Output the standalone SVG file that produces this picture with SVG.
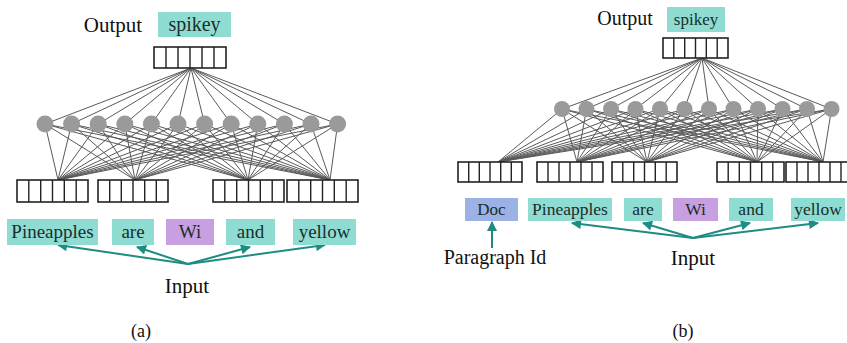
<svg xmlns="http://www.w3.org/2000/svg" width="847" height="343" viewBox="0 0 847 343">
<style>
.t{font-family:"Liberation Serif","DejaVu Serif",serif;fill:#111;text-anchor:middle}
.wt{font-family:"Liberation Serif","DejaVu Serif",serif;fill:#1a2e2c;text-anchor:middle}
.teal{fill:#8fdcd3}
.purp{fill:#c8a0e2}
.blue{fill:#9cb1e6}
.cell{fill:#fff;stroke:#222;stroke-width:1.6}
.cl{fill:none;stroke:#222;stroke-width:1.4}
.ln{stroke:#5a5a5a;stroke-width:1;fill:none}
.nd{fill:#9a9a9a}
.ar{stroke:#1f8c83;stroke-width:2;fill:none;marker-end:url(#ah)}
</style>
<defs>
<marker id="ah" viewBox="0 0 10 10" refX="9" refY="5" markerWidth="6" markerHeight="5" orient="auto" markerUnits="strokeWidth">
<path d="M0,0 L10,5 L0,10 z" fill="#1f8c83"/>
</marker>
</defs>
<rect width="847" height="343" fill="#fff"/>

<!-- connectors -->
<g id="connectors">
<g id="a-out-lines" class="ln">
<path d="M191,68 L45,124 M191,68 L71.6,124 M191,68 L98.2,124 M191,68 L124.8,124 M191,68 L151.4,124 M191,68 L178,124 M191,68 L204.6,124 M191,68 L231.2,124 M191,68 L257.8,124 M191,68 L284.4,124 M191,68 L311,124 M191,68 L337.6,124"/>
</g>
<g id="a-in-lines" class="ln">
<path d="M45,124 L58,180 M71.6,124 L58,180 M98.2,124 L58,180 M124.8,124 L58,180 M151.4,124 L58,180 M178,124 L58,180 M204.6,124 L58,180 M231.2,124 L58,180 M257.8,124 L58,180 M284.4,124 L58,180 M311,124 L58,180 M337.6,124 L58,180"/>
<path d="M45,124 L135,180 M71.6,124 L135,180 M98.2,124 L135,180 M124.8,124 L135,180 M151.4,124 L135,180 M178,124 L135,180 M204.6,124 L135,180 M231.2,124 L135,180 M257.8,124 L135,180 M284.4,124 L135,180 M311,124 L135,180 M337.6,124 L135,180"/>
<path d="M45,124 L248,180 M71.6,124 L248,180 M98.2,124 L248,180 M124.8,124 L248,180 M151.4,124 L248,180 M178,124 L248,180 M204.6,124 L248,180 M231.2,124 L248,180 M257.8,124 L248,180 M284.4,124 L248,180 M311,124 L248,180 M337.6,124 L248,180"/>
<path d="M45,124 L330,180 M71.6,124 L330,180 M98.2,124 L330,180 M124.8,124 L330,180 M151.4,124 L330,180 M178,124 L330,180 M204.6,124 L330,180 M231.2,124 L330,180 M257.8,124 L330,180 M284.4,124 L330,180 M311,124 L330,180 M337.6,124 L330,180"/>
</g>
<g id="b-out-lines" class="ln">
<path d="M702,58 L562,109 M702,58 L586.5,109 M702,58 L611,109 M702,58 L635.5,109 M702,58 L660,109 M702,58 L684.5,109 M702,58 L709,109 M702,58 L733.5,109 M702,58 L758,109 M702,58 L782.5,109 M702,58 L807,109 M702,58 L831.5,109"/>
</g>
<g id="b-in-lines" class="ln">
<path d="M562,109 L498,162 M586.5,109 L498,162 M611,109 L498,162 M635.5,109 L498,162 M660,109 L498,162 M684.5,109 L498,162 M709,109 L498,162 M733.5,109 L498,162 M758,109 L498,162 M782.5,109 L498,162 M807,109 L498,162 M831.5,109 L498,162"/>
<path d="M562,109 L577,162 M586.5,109 L577,162 M611,109 L577,162 M635.5,109 L577,162 M660,109 L577,162 M684.5,109 L577,162 M709,109 L577,162 M733.5,109 L577,162 M758,109 L577,162 M782.5,109 L577,162 M807,109 L577,162 M831.5,109 L577,162"/>
<path d="M562,109 L647,162 M586.5,109 L647,162 M611,109 L647,162 M635.5,109 L647,162 M660,109 L647,162 M684.5,109 L647,162 M709,109 L647,162 M733.5,109 L647,162 M758,109 L647,162 M782.5,109 L647,162 M807,109 L647,162 M831.5,109 L647,162"/>
<path d="M562,109 L757,162 M586.5,109 L757,162 M611,109 L757,162 M635.5,109 L757,162 M660,109 L757,162 M684.5,109 L757,162 M709,109 L757,162 M733.5,109 L757,162 M758,109 L757,162 M782.5,109 L757,162 M807,109 L757,162 M831.5,109 L757,162"/>
<path d="M562,109 L823,162 M586.5,109 L823,162 M611,109 L823,162 M635.5,109 L823,162 M660,109 L823,162 M684.5,109 L823,162 M709,109 L823,162 M733.5,109 L823,162 M758,109 L823,162 M782.5,109 L823,162 M807,109 L823,162 M831.5,109 L823,162"/>
</g>
<g id="arrows">
<path class="ar" d="M188,264 L58,245"/>
<path class="ar" d="M188,264 L137,247"/>
<path class="ar" d="M188,264 L250,247"/>
<path class="ar" d="M188,264 L325,245"/>
<path class="ar" d="M693,238 L572,223"/>
<path class="ar" d="M693,238 L643,223"/>
<path class="ar" d="M693,238 L750,223"/>
<path class="ar" d="M693,238 L818,223"/>
<path class="ar" d="M492,248 L492,222"/>
</g>
</g>

<!-- (a) -->
<g id="a-output-label"><text class="t" x="113" y="32" font-size="21">Output</text></g>
<g id="a-output-word"><rect class="teal" x="158" y="12" width="73" height="25"/><text class="wt" x="194.5" y="31" font-size="20">spikey</text></g>
<g id="a-output-vec">
<rect class="cell" x="154" y="47" width="72" height="21"/>
<path class="cl" d="M166,47V68M178,47V68M190,47V68M202,47V68M214,47V68"/>
</g>
<g id="a-hidden" class="nd">
<circle cx="45" cy="124" r="8.5"/><circle cx="71.6" cy="124" r="8.5"/><circle cx="98.2" cy="124" r="8.5"/><circle cx="124.8" cy="124" r="8.5"/><circle cx="151.4" cy="124" r="8.5"/><circle cx="178" cy="124" r="8.5"/><circle cx="204.6" cy="124" r="8.5"/><circle cx="231.2" cy="124" r="8.5"/><circle cx="257.8" cy="124" r="8.5"/><circle cx="284.4" cy="124" r="8.5"/><circle cx="311" cy="124" r="8.5"/><circle cx="337.6" cy="124" r="8.5"/>
</g>
<g id="a-vec1"><rect class="cell" x="17" y="180" width="71" height="22"/><path class="cl" d="M28.8,180V202M40.7,180V202M52.5,180V202M64.3,180V202M76.2,180V202"/></g>
<g id="a-vec2"><rect class="cell" x="98" y="180" width="70" height="22"/><path class="cl" d="M109.7,180V202M121.3,180V202M133,180V202M144.7,180V202M156.3,180V202"/></g>
<g id="a-vec3"><rect class="cell" x="213" y="180" width="71" height="22"/><path class="cl" d="M224.8,180V202M236.7,180V202M248.5,180V202M260.3,180V202M272.2,180V202"/></g>
<g id="a-vec4"><rect class="cell" x="287" y="180" width="71" height="22"/><path class="cl" d="M298.8,180V202M310.7,180V202M322.5,180V202M334.3,180V202M346.2,180V202"/></g>
<g id="a-w1"><rect class="teal" x="7" y="219" width="91" height="26"/><text class="wt" x="52.5" y="238" font-size="19">Pineapples</text></g>
<g id="a-w2"><rect class="teal" x="112" y="219" width="42" height="26"/><text class="wt" x="133" y="238" font-size="19">are</text></g>
<g id="a-w3"><rect class="purp" x="166" y="219" width="48" height="26"/><text class="wt" x="190" y="238" font-size="19">Wi</text></g>
<g id="a-w4"><rect class="teal" x="226" y="219" width="49" height="26"/><text class="wt" x="250.5" y="238" font-size="19">and</text></g>
<g id="a-w5"><rect class="teal" x="293" y="219" width="63" height="26"/><text class="wt" x="324.5" y="238" font-size="19">yellow</text></g>
<g id="a-input-label"><text class="t" x="187" y="293" font-size="21">Input</text></g>
<g id="a-caption"><text class="t" x="141" y="337" font-size="18">(a)</text></g>

<!-- (b) -->
<g id="b-output-label"><text class="t" x="625" y="25" font-size="20">Output</text></g>
<g id="b-output-word"><rect class="teal" x="667" y="7" width="58" height="25"/><text class="wt" x="696" y="25" font-size="17">spikey</text></g>
<g id="b-output-vec">
<rect class="cell" x="663" y="38" width="65" height="20"/>
<path class="cl" d="M673.8,38V58M684.7,38V58M695.5,38V58M706.3,38V58M717.2,38V58"/>
</g>
<g id="b-hidden" class="nd">
<circle cx="562" cy="109" r="8"/><circle cx="586.5" cy="109" r="8"/><circle cx="611" cy="109" r="8"/><circle cx="635.5" cy="109" r="8"/><circle cx="660" cy="109" r="8"/><circle cx="684.5" cy="109" r="8"/><circle cx="709" cy="109" r="8"/><circle cx="733.5" cy="109" r="8"/><circle cx="758" cy="109" r="8"/><circle cx="782.5" cy="109" r="8"/><circle cx="807" cy="109" r="8"/><circle cx="831.5" cy="109" r="8"/>
</g>
<g id="b-vec1"><rect class="cell" x="458" y="162" width="64" height="20"/><path class="cl" d="M468.7,162V182M479.3,162V182M490,162V182M500.7,162V182M511.3,162V182"/></g>
<g id="b-vec2"><rect class="cell" x="537" y="162" width="66" height="20"/><path class="cl" d="M548,162V182M559,162V182M570,162V182M581,162V182M592,162V182"/></g>
<g id="b-vec3"><rect class="cell" x="612" y="162" width="65" height="20"/><path class="cl" d="M622.8,162V182M633.7,162V182M644.5,162V182M655.3,162V182M666.2,162V182"/></g>
<g id="b-vec4"><rect class="cell" x="717" y="162" width="67" height="20"/><path class="cl" d="M728.2,162V182M739.3,162V182M750.5,162V182M761.7,162V182M772.8,162V182"/></g>
<g id="b-vec5"><rect class="cell" x="786" y="162" width="66" height="20"/><path class="cl" d="M797,162V182M808,162V182M819,162V182M830,162V182M841,162V182"/></g>
<g id="b-doc"><rect class="blue" x="465" y="198" width="53" height="23"/><text class="wt" x="491.5" y="215" font-size="17">Doc</text></g>
<g id="b-w1"><rect class="teal" x="528" y="198" width="84" height="23"/><text class="wt" x="570" y="215" font-size="17.5">Pineapples</text></g>
<g id="b-w2"><rect class="teal" x="624" y="198" width="38" height="23"/><text class="wt" x="643" y="215" font-size="17.5">are</text></g>
<g id="b-w3"><rect class="purp" x="673" y="198" width="45" height="23"/><text class="wt" x="695.5" y="215" font-size="17.5">Wi</text></g>
<g id="b-w4"><rect class="teal" x="729" y="198" width="44" height="23"/><text class="wt" x="751" y="215" font-size="17.5">and</text></g>
<g id="b-w5"><rect class="teal" x="791" y="198" width="54" height="23"/><text class="wt" x="818" y="215" font-size="17.5">yellow</text></g>
<g id="b-para-label"><text class="t" x="495" y="264" font-size="20">Paragraph Id</text></g>
<g id="b-input-label"><text class="t" x="693" y="265" font-size="21">Input</text></g>
<g id="b-caption"><text class="t" x="683" y="337" font-size="18">(b)</text></g>
</svg>
